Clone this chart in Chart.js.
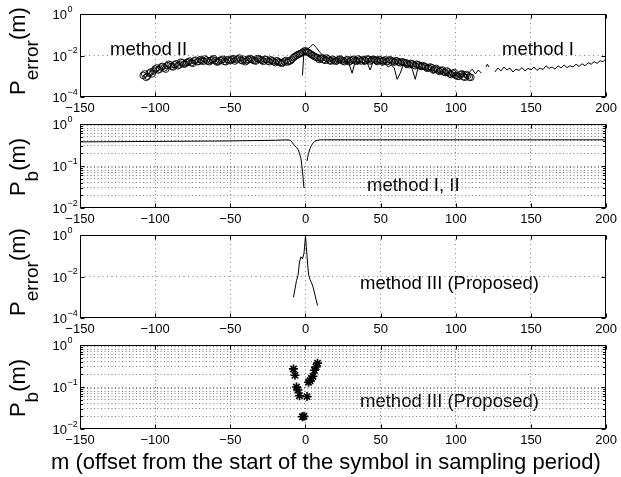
<!DOCTYPE html>
<html><head><meta charset="utf-8">
<script src="https://cdn.jsdelivr.net/npm/chart.js@4/dist/chart.umd.min.js"></script>
<style>
html,body{margin:0;padding:0;background:#fff;}
#wrap{position:relative;width:621px;height:477px;background:#fff;}
canvas{position:absolute;left:0;top:0;}
</style></head><body>
<div id="wrap">
<canvas id="c1" width="621" height="477"></canvas>
<canvas id="c2" width="621" height="477"></canvas>
<canvas id="c3" width="621" height="477"></canvas>
<canvas id="c4" width="621" height="477"></canvas>
</div>
<script>
// ---- data ----
const xTicks = [-150, -100, -50, 0, 50, 100, 150, 200];
const errTicks = [1e-4, 1e-2, 1];
const errExps = ['\u22124', '\u22122', '0'];
const pbTicks = [1e-2, 1e-1, 1];
const pbExps = ['\u22122', '\u22121', '0'];
const pbMinor = [0.02,0.03,0.04,0.05,0.06,0.07,0.08,0.09,0.2,0.3,0.4,0.5,0.6,0.7,0.8,0.9];

// panel 1: method II (circles), even offsets
const mII = [-108,-106,-104,-102,-100,-98,-96,-94,-92,-90,-88,-86,-84,-82,-80,-78,-76,-74,-72,-70,-68,-66,-64,-62,-60,-58,-56,-54,-52,-50,-48,-46,-44,-42,-40,-38,-36,-34,-32,-30,-28,-26,-24,-22,-20,-18,-16,-14,-12,-10,-8,-6,-4,-2,0,2,4,6,8,10,12,14,16,18,20,22,24,26,28,30,32,34,36,38,40,42,44,46,48,50,52,54,56,58,60,62,64,66,68,70,72,74,76,78,80,82,84,86,88,90,92,94,96,98,100,102,104,106,108,110];
const pII = [1.1e-3,8.9e-4,1.4e-3,1.3e-3,2.2e-3,2.0e-3,2.8e-3,2.5e-3,3.2e-3,3.5e-3,
 2.8e-3,4.0e-3,3.5e-3,4.5e-3,4.0e-3,
 5.0e-3,4.5e-3,5.6e-3,5.0e-3,6.3e-3,
 5.2e-3,6.0e-3,5.0e-3,6.3e-3,5.6e-3,
 5.0e-3,6.0e-3,5.2e-3,6.3e-3,5.6e-3,
 7.1e-3,6.3e-3,7.6e-3,5.6e-3,5.0e-3,
 6.3e-3,6.6e-3,5.6e-3,7.1e-3,6.3e-3,
 5.2e-3,6.3e-3,5.0e-3,5.6e-3,4.5e-3,
 5.0e-3,4.2e-3,5.2e-3,4.8e-3,5.6e-3,
 7.9e-3,1.0e-2,1.2e-2,1.4e-2,1.7e-2,
 1.4e-2,1.1e-2,8.9e-3,7.9e-3,7.1e-3,
 6.3e-3,7.6e-3,5.6e-3,6.6e-3,5.2e-3,
 6.3e-3,6.0e-3,5.0e-3,6.3e-3,5.6e-3,
 6.6e-3,5.2e-3,6.0e-3,6.3e-3,5.6e-3,
 6.6e-3,6.0e-3,6.3e-3,5.2e-3,6.0e-3,
 5.6e-3,5.0e-3,6.3e-3,5.2e-3,5.6e-3,
 4.8e-3,5.0e-3,4.5e-3,4.0e-3,4.2e-3,
 3.5e-3,3.8e-3,3.2e-3,3.3e-3,2.8e-3,
 2.5e-3,2.6e-3,2.2e-3,2.0e-3,1.9e-3,
 1.6e-3,1.8e-3,1.3e-3,1.4e-3,1.1e-3,
 1.0e-3,1.3e-3,8.9e-4,1.1e-3,8.9e-4];

// panel 1: method II (circles), odd offsets
const mIIodd = [-107,-105,-103,-101,-99,-97,-95,-93,-91,-89,-87,-85,-83,-81,-79,-77,-75,-73,-71,-69,-67,-65,-63,-61,-59,-57,-55,-53,-51,-49,-47,-45,-43,-41,-39,-37,-35,-33,-31,-29,-27,-25,-23,-21,-19,-17,-15,-13,-11,-9,-7,-5,-3,-1,1,3,5,7,9,11,13,15,17,19,21,23,25,27,29,31,33,35,37,39,41,43,45,47,49,51,53,55,57,59,61,63,65,67,69,71,73,75,77,79,81,83,85,87,89,91,93,95,97,99,101,103,105,107,109];
const pIIodd = [1.3e-3,1.0e-3,1.6e-3,1.8e-3,2.5e-3,2.2e-3,3.0e-3,2.2e-3,3.8e-3,3.0e-3,
 3.6e-3,3.2e-3,4.8e-3,3.8e-3,4.6e-3,5.4e-3,4.2e-3,6.0e-3,5.2e-3,5.8e-3,
 6.8e-3,5.4e-3,5.8e-3,7.0e-3,4.8e-3,5.8e-3,6.6e-3,5.0e-3,6.0e-3,6.4e-3,
 5.4e-3,6.8e-3,6.0e-3,6.6e-3,5.6e-3,7.2e-3,6.0e-3,5.4e-3,6.8e-3,5.8e-3,
 6.6e-3,5.4e-3,6.2e-3,5.0e-3,5.6e-3,4.6e-3,4.4e-3,5.8e-3,5.2e-3,6.6e-3,
 9.0e-3,1.1e-2,1.3e-2,1.6e-2,1.5e-2,1.25e-2,1.0e-2,8.2e-3,6.4e-3,7.6e-3,
 5.8e-3,6.8e-3,5.4e-3,6.0e-3,5.6e-3,6.8e-3,5.4e-3,6.0e-3,5.0e-3,6.2e-3,
 5.6e-3,6.8e-3,5.4e-3,6.0e-3,6.8e-3,5.4e-3,6.6e-3,5.8e-3,6.4e-3,5.4e-3,
 6.2e-3,5.4e-3,5.8e-3,4.8e-3,5.4e-3,4.4e-3,4.8e-3,4.4e-3,3.6e-3,4.0e-3,
 3.2e-3,3.6e-3,3.0e-3,3.0e-3,2.4e-3,2.8e-3,2.0e-3,2.4e-3,1.7e-3,2.0e-3,
 1.5e-3,1.6e-3,1.2e-3,1.5e-3,1.0e-3,1.2e-3,9.5e-4,1.2e-3,9.0e-4];

// panel 1: method I (line)
const mI = [-2,-1,1,3,5,7,9,11,13,15,17,19,21,23,25,27,29,31,33,35,37,39,41,43,45,47,49,51,53,55,57,59,61,63,65,67,69,71,73,75,77,79,81,83,85,87,89,91,93,95,97,99,101,103,105,107,109,111,113,115,117,118,120,121,122,124,126,128,130,132,134,136,138,140,142,144,146,148,150,152,154,156,158,160,162,164,166,168,170,172,174,176,178,180,182,184,186,188,190,192,194,196,198,200];
const pI = [1.1e-3,1.8e-2,2.0e-2,2.5e-2,3.5e-2,2.5e-2,1.6e-2,1.1e-2,1.0e-2,
 7.9e-3,5.6e-3,7.1e-3,5.0e-3,6.3e-3,4.5e-3,5.6e-3,4.0e-3,1.4e-3,5.0e-3,
 4.0e-3,5.0e-3,3.5e-3,4.5e-3,2.0e-3,5.0e-3,3.5e-3,4.5e-3,3.2e-3,4.0e-3,
 2.8e-3,3.5e-3,2.5e-3,7.1e-4,1.4e-3,3.5e-3,2.5e-3,3.2e-3,2.2e-3,7.1e-4,
 2.8e-3,2.0e-3,2.5e-3,1.8e-3,2.2e-3,1.4e-3,2.0e-3,1.3e-3,1.8e-3,1.1e-3,
 1.6e-3,1.0e-3,1.4e-3,8.9e-4,1.3e-3,1.8e-3,1.1e-3,1.6e-3,2.2e-3,1.3e-3,
 2.0e-3,1.4e-3,
 null,2.8e-3,3.8e-3,2.8e-3,null,
 1.6e-3,2.5e-3,1.8e-3,2.8e-3,2.0e-3,2.5e-3,1.6e-3,2.2e-3,1.9e-3,2.6e-3,
 1.8e-3,2.4e-3,2.0e-3,2.8e-3,1.9e-3,2.5e-3,2.1e-3,3.2e-3,2.4e-3,2.8e-3,
 2.2e-3,3.2e-3,2.5e-3,3.5e-3,2.6e-3,3.2e-3,2.8e-3,3.8e-3,3.0e-3,4.0e-3,
 3.2e-3,4.5e-3,3.8e-3,5.0e-3,4.2e-3,5.6e-3,5.0e-3,7.1e-3];

// panel 2: Pb, method I, II
const mB12 = [-150,-100,-50,-20,-13,-10,-9,-8,-7,-6,-5,-4,-3,-2,-1,0,1,2,3,4,5,6,7,8,10,12,50,200];
const pB12 = [0.375,0.385,0.395,0.41,0.42,0.41,0.37,0.33,0.3,0.28,0.25,0.2,0.15,0.075,0.03,null,0.13,0.2,0.26,0.31,0.35,0.38,0.4,0.41,0.42,0.42,0.42,0.42];

// panel 3: Perror, method III
const mIII = [-8,-7,-6,-5,-4,-3,-2,-1,0,1,2,3,4,5,6,7,8];
const pIII = [1.0e-3,2.5e-3,6.3e-3,1.1e-2,5.0e-2,8.9e-2,7.1e-2,0.13,0.9,0.1,1.3e-2,7.1e-3,5.0e-3,3.2e-3,1.6e-3,7.9e-4,4.0e-4];

// panel 4: Pb, method III
const mB3 = [-8,-7,-6,-5,-4,-2,-1,1,2,3,4,5,6,7,8];
const pB3 = [0.27,0.19,0.1,0.085,0.062,0.0195,0.02,0.059,0.13,0.14,0.16,0.18,0.25,0.3,0.37];

// ---- drawing ----
const FONT = '"Liberation Sans", Arial, Helvetica, sans-serif';
const pts = (ms, ps) => ms.map((m, i) => ({x: m, y: ps[i]}));

function drawYTitle(ctx, cy, sub) {
  ctx.save();
  ctx.translate(25, cy);
  ctx.rotate(-Math.PI / 2);
  ctx.fillStyle = '#000';
  ctx.textBaseline = 'alphabetic';
  ctx.textAlign = 'left';
  const fMain = '22px ' + FONT, fSub = '19px ' + FONT;
  ctx.font = fMain;
  const wP = ctx.measureText('P').width, wM = ctx.measureText('(m)').width;
  ctx.font = fSub;
  const wS = ctx.measureText(sub).width;
  let x = -(wP + wS + wM) / 2;
  ctx.font = fMain; ctx.fillText('P', x, 0); x += wP;
  ctx.font = fSub; ctx.fillText(sub, x, 13); x += wS;
  ctx.font = fMain; ctx.fillText('(m)', x, 0);
  ctx.restore();
}

function makePanel(id, cfg) {
  const plotTop = cfg.top, plotBottom = cfg.bottom;
  const yMajor = cfg.yTicks;
  const yAll = cfg.minor ? yMajor.concat(cfg.minor) : yMajor;
  const yMin = yMajor[0], yMax = yMajor[yMajor.length - 1];
  const dash = cfg.dash;
  const plugin = {
    id: 'frame' + id,
    beforeDraw(chart) {
      const ctx = chart.ctx;
      ctx.save();
      ctx.fillStyle = '#000';
      ctx.font = '18.5px ' + FONT;
      ctx.textAlign = 'left';
      ctx.textBaseline = 'alphabetic';
      cfg.notes.forEach(n => ctx.fillText(n.text, n.x, n.y));
      ctx.restore();
    },
    afterDraw(chart) {
      const ctx = chart.ctx, a = chart.chartArea;
      const xs = chart.scales.x, ys = chart.scales.y;
      const L = Math.round(a.left) + 0.5, R = Math.round(a.right) - 0.5;
      const T = Math.round(a.top) + 0.5, B = Math.round(a.bottom) - 0.5;
      ctx.save();
      ctx.strokeStyle = '#000';
      ctx.lineWidth = 1;
      ctx.setLineDash([]);
      ctx.strokeRect(L, T, R - L, B - T);
      ctx.beginPath();
      xTicks.forEach(v => {
        const px = Math.round(xs.getPixelForValue(v)) + 0.5;
        ctx.moveTo(px, B); ctx.lineTo(px, B - 4);
        ctx.moveTo(px, T); ctx.lineTo(px, T + 4);
      });
      yMajor.forEach(v => {
        const py = Math.round(ys.getPixelForValue(v)) + 0.5;
        ctx.moveTo(L, py); ctx.lineTo(L + 4, py);
        ctx.moveTo(R, py); ctx.lineTo(R - 4, py);
      });
      (cfg.minor || []).forEach(v => {
        const py = Math.round(ys.getPixelForValue(v)) + 0.5;
        ctx.moveTo(L, py); ctx.lineTo(L + 2.5, py);
        ctx.moveTo(R, py); ctx.lineTo(R - 2.5, py);
      });
      ctx.stroke();
      // y tick labels 10^k
      ctx.fillStyle = '#000';
      ctx.textBaseline = 'alphabetic';
      yMajor.forEach((v, i) => {
        const py = ys.getPixelForValue(v);
        ctx.font = '13px ' + FONT;
        ctx.textAlign = 'right';
        ctx.fillText('10', 67, py + 5);
        ctx.font = '9px ' + FONT;
        ctx.textAlign = 'left';
        ctx.fillText(cfg.exps[i], 67.5, py - 2.5);
      });
      drawYTitle(ctx, cfg.titleY, cfg.sub);
      if (cfg.xTitle) {
        ctx.font = '22px ' + FONT;
        ctx.textAlign = 'center';
        ctx.fillText(cfg.xTitle, 326, 469);
      }
      ctx.restore();
    }
  };
  return new Chart(document.getElementById(id), {
    type: 'scatter',
    data: {datasets: cfg.datasets},
    options: {
      responsive: false,
      maintainAspectRatio: false,
      animation: false,
      events: [],
      layout: {padding: {top: plotTop, bottom: 477 - 20 - plotBottom, left: 0, right: 14}},
      plugins: {legend: {display: false}, tooltip: {enabled: false}, title: {display: false}},
      scales: {
        x: {
          type: 'linear', min: -150, max: 200,
          afterBuildTicks: s => { s.ticks = xTicks.map(v => ({value: v})); },
          afterFit: s => { s.height = 20; },
          ticks: {
            autoSkip: false, maxRotation: 0, padding: 4, color: '#000',
            font: {family: FONT, size: 13},
            callback: v => (v < 0 ? '\u2212' + (-v) : '' + v)
          },
          grid: {
            drawTicks: false, lineWidth: 1,
            color: c => (c.tick && (c.tick.value === -150 || c.tick.value === 200)) ? 'rgba(0,0,0,0)' : '#808080'
          },
          border: {display: false, dash: dash}
        },
        y: {
          type: 'logarithmic', min: yMin, max: yMax,
          afterBuildTicks: s => { s.ticks = yAll.map(v => ({value: v})); },
          afterFit: s => { s.width = 80; },
          ticks: {display: false},
          grid: {
            drawTicks: false, lineWidth: 1,
            color: c => (c.tick && (c.tick.value === yMin || c.tick.value === yMax)) ? 'rgba(0,0,0,0)' : '#808080'
          },
          border: {display: false, dash: dash}
        }
      }
    },
    plugins: [plugin]
  });
}

makePanel('c1', {
  top: 14, bottom: 97, yTicks: errTicks, exps: errExps, dash: [1, 3.5],
  sub: 'error', titleY: 51,
  notes: [{text: 'method II', x: 110, y: 55}, {text: 'method I', x: 502, y: 55}],
  datasets: [
    {label: 'method I', data: pts(mI, pI), showLine: true, borderColor: '#000', borderWidth: 1,
     pointRadius: 0, spanGaps: false, fill: false},
    {label: 'method II', data: pts(mII, pII).concat(pts(mIIodd, pIIodd)), showLine: false,
     pointStyle: 'circle', pointRadius: 3.3,
     borderColor: '#000', backgroundColor: 'rgba(0,0,0,0)', borderWidth: 0.9}
  ]
});

makePanel('c2', {
  top: 124, bottom: 208, yTicks: pbTicks, minor: pbMinor, exps: pbExps, dash: [1, 2.5],
  sub: 'b', titleY: 167,
  notes: [{text: 'method I, II', x: 367, y: 191}],
  datasets: [
    {label: 'method I, II', data: pts(mB12, pB12), showLine: true, borderColor: '#000', borderWidth: 1,
     pointRadius: 0, spanGaps: false, fill: false}
  ]
});

makePanel('c3', {
  top: 235, bottom: 318, yTicks: errTicks, exps: errExps, dash: [1, 3.5],
  sub: 'error', titleY: 272,
  notes: [{text: 'method III (Proposed)', x: 360, y: 289}],
  datasets: [
    {label: 'method III', data: pts(mIII, pIII), showLine: true, borderColor: '#000', borderWidth: 1,
     pointRadius: 0, fill: false}
  ]
});

makePanel('c4', {
  top: 345, bottom: 429, yTicks: pbTicks, minor: pbMinor, exps: pbExps, dash: [1, 2.5],
  sub: 'b', titleY: 388,
  notes: [{text: 'method III (Proposed)', x: 360, y: 407}],
  xTitle: 'm (offset from the start of the symbol in sampling period)',
  datasets: [
    {label: 'method III', data: pts(mB3, pB3), showLine: false, pointStyle: 'star', pointRadius: 4.5,
     borderColor: '#000', backgroundColor: '#000', borderWidth: 1.6}
  ]
});
</script>
</body></html>
